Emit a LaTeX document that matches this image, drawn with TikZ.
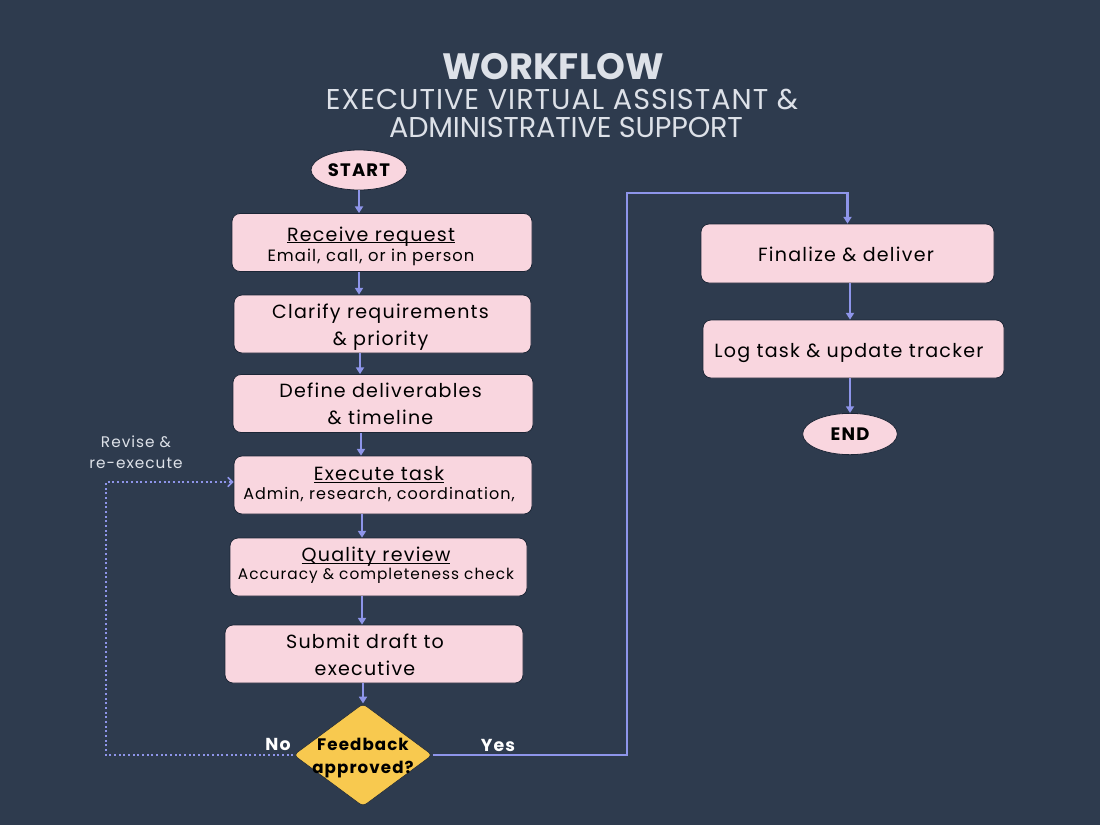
\documentclass[tikz,border=0pt]{standalone}
\usepackage{fontspec}
\setmainfont{Poppins}[LetterSpace=6.5]
\newfontfamily\titlefont{Poppins}
\newfontfamily\subtitlefont{Poppins}[LetterSpace=3.5]
\newfontfamily\subtitlefontb{Poppins}[LetterSpace=-0.5]
\usetikzlibrary{shapes.geometric,arrows.meta}
\definecolor{bg}{HTML}{2E3B4E}
\definecolor{pinkbox}{HTML}{F9D6DF}
\definecolor{arrowc}{HTML}{8E95EA}
\definecolor{titlec}{HTML}{DDE1E8}
\definecolor{diam}{HTML}{F8C94F}
\definecolor{edgec}{HTML}{1C2636}
\newcommand\subtxt[1]{\fontsize{#1}{14}\selectfont}
\newcommand\ulne[1]{\setbox0\hbox{#1}\rlap{\rule[-1.6pt]{\wd0}{0.6pt}}\box0}
\begin{document}
\begin{tikzpicture}[x=0.75pt,y=-0.75pt,
  box/.style={draw=edgec, line width=0.6pt, fill=pinkbox, rounded corners=6pt,
    minimum height=43.5pt, inner sep=0pt},
  boxtxt/.style={align=center, text=black, inner sep=0pt,
    font=\fontsize{14.3}{20}\selectfont},
  term/.style={ellipse, draw=edgec, line width=0.6pt, fill=pinkbox, inner sep=0pt,
    font=\bfseries\fontsize{13.5}{15}\selectfont, text=black},
  decision/.style={diamond, draw=edgec, line width=0.4pt, fill=diam, inner sep=0pt,
    rounded corners=3pt, minimum width=104pt, minimum height=77pt},
  dectext/.style={align=center, text=black, font=\bfseries\fontsize{12.5}{17}\selectfont},
  arr/.style={draw=arrowc, line width=1.4pt, -{Triangle[width=6pt,length=5pt]}},
  dotarr/.style={draw=arrowc, line width=1.5pt, dotted, -{Straight Barb[width=7pt,length=3.5pt,line width=1.2pt]}},
  yesno/.style={text=white, font=\bfseries\fontsize{13}{14}\selectfont},
  note/.style={text=titlec, align=center, font=\fontsize{11.5}{16}\selectfont}
]
\fill[bg] (0,0) rectangle (1100,825);
\useasboundingbox (0,0) rectangle (1100,825);

% title
\node[text=titlec, font=\titlefont\bfseries\fontsize{27.5}{30}\selectfont] (t1) at (553,67) {WORKFLOW};
\node[text=titlec, font=\subtitlefont\fontsize{21.5}{21}\selectfont] (t2) at (562,99)
  {EXECUTIVE VIRTUAL ASSISTANT \&};
\node[text=titlec, font=\subtitlefontb\fontsize{21.5}{21}\selectfont] (t3) at (566,127)
  {ADMINISTRATIVE SUPPORT};

% left column
\node[term, minimum width=72pt, minimum height=30pt] (start) at (359,170) {START};
\node[box, minimum width=225pt] (recv) at (382,242.5) {};
\node[boxtxt] (recvt) at (371,246)
  {\ulne{Receive request}\\[-5pt]{\subtxt{12.3}Email, call, or in person}};
\node[box, minimum width=222.75pt] (clar) at (382.5,324) {};
\node[boxtxt] (clart) at (380.5,327) {Clarify requirements\\\& priority};
\node[box, minimum width=225pt] (def) at (383,403.5) {};
\node[boxtxt] (deft) at (380.5,403.5) {Define deliverables\\\& timeline};
\node[box, minimum width=223.5pt] (exec) at (383,485) {};
\node[boxtxt] (exect) at (379,484)
  {\ulne{Execute task}\\[-6pt]{\subtxt{12}Admin, research, coordination,}};
\node[box, minimum width=222.75pt] (qual) at (378.5,567) {};
\node[boxtxt] (qualt) at (376,565)
  {\ulne{Quality review}\\[-6.5pt]{\subtxt{11.5}Accuracy \& completeness check}};
\node[box, minimum width=223.5pt] (subm) at (374,654) {};
\node[boxtxt] (submt) at (365,654.5) {Submit draft to\\executive};
\node[decision] (dec) at (363,755) {};
\node[dectext] (dect) at (363,758) {Feedback\\approved?};

% right column
\node[box, minimum width=219.75pt, minimum height=44.25pt] (fin) at (847.5,253.5) {};
\node[boxtxt] (fint) at (846,254.5) {Finalize \& deliver};
\node[box, minimum width=225.75pt] (logt) at (853.5,349) {};
\node[boxtxt] (logtt) at (849,353) {Log task \& update tracker};
\node[term, minimum width=71pt, minimum height=31pt] (endn) at (850,434) {END};

% arrows
\path (359,0) coordinate (x1) (360,0) coordinate (x2) (361,0) coordinate (x3)
      (362,0) coordinate (x4) (363,0) coordinate (x5);
\draw[arr] (start.south) -- (start.south |- recv.north);
\draw[arr] (recv.south -| x1) -- (clar.north -| x1);
\draw[arr] (clar.south -| x2) -- (def.north -| x2);
\draw[arr] (def.south -| x3) -- (exec.north -| x3);
\draw[arr] (exec.south -| x4) -- (qual.north -| x4);
\draw[arr] (qual.south -| x4) -- (subm.north -| x4);
\draw[arr] (subm.south -| x5) -- (dec.north);
\draw[arr] (fin.south -| endn) -- (logt.north -| endn);
\draw[arr] (logt.south -| endn) -- (endn.north);

% yes path
\coordinate (ya) at (627,193);
\draw[arr, line width=1.6pt] (dec.east) -- (dec.east -| ya) -- (ya) -- (ya -| fin) -- (fin.north);
% no path
\coordinate (na) at (106,482);
\draw[dotarr] (dec.west) -- (dec.west -| na) -- (na) -- (exec.west |- na);

\node[yesno] (no) at (278,744) {No};
\node[yesno] (yes) at (498,745) {Yes};
\node[note] (rev) at (136,452) {Revise \&\\re-execute};
\end{tikzpicture}
\end{document}
